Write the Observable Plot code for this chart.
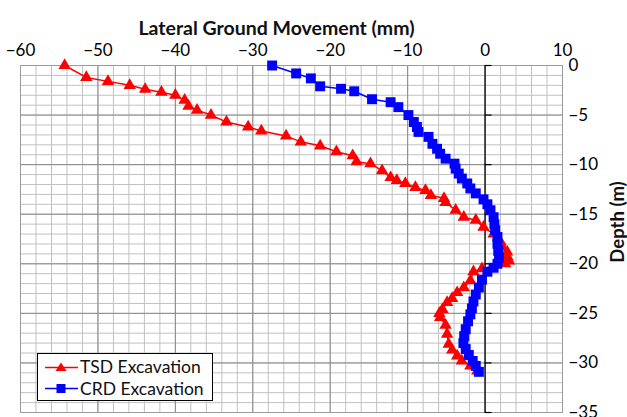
<!DOCTYPE html>
<html>
<head>
<meta charset="utf-8">
<script src="https://cdn.jsdelivr.net/npm/d3@7"></script>
<script src="https://cdn.jsdelivr.net/npm/@observablehq/plot@0.6"></script>
<style>
  html, body { margin: 0; padding: 0; background: #fff; }
  #wrap { position: relative; width: 627px; height: 417px; overflow: hidden; font-family: Lato, "Open Sans", sans-serif; }
  #legend { position: absolute; left: 37px; top: 353px; width: 176px; height: 48px; border: 1px solid #000; background: #fff; box-sizing: border-box; padding-top: 2px; }
  .lrow { display: flex; align-items: center; height: 21.5px; font-size: 17.5px; color: #111; }
  .lrow svg { margin-left: 7px; margin-right: 2px; }
  #ytitle { position: absolute; left: 617px; top: 222px; transform: translate(-50%, -50%) rotate(-90deg); font-weight: bold; font-size: 18.5px; color: #111; white-space: nowrap; }
</style>
</head>
<body>
<div id="wrap"></div>
<script>
// Series: lateral movement (mm) vs depth (m)
const tsdX = [-54.3,-51.5,-48.7,-45.9,-43.9,-41.8,-40.0,-38.8,-38.3,-37.2,-35.4,-33.4,-30.6,-28.9,-25.7,-23.8,-21.3,-19.2,-17.1,-16.6,-14.8,-13.3,-12.2,-11.4,-10.3,-9.0,-7.7,-7.0,-5.3,-5.1,-3.8,-2.75,-1.2,-0.2,1.1,2.0,2.2,2.85,2.9,3.1,2.6,-0.4,-1.5,-1.9,-2.75,-3.6,-4.25,-4.9,-5.5,-5.9,-5.8,-5.1,-4.9,-4.7,-4.25,-3.6,-3.0,-1.9,-1.0];
const tsdDepth = [0,-1.2,-1.6,-2.0,-2.4,-2.7,-3.0,-3.5,-4.1,-4.5,-5.0,-5.7,-6.2,-6.6,-7.1,-7.7,-8.1,-8.7,-9.1,-9.7,-9.9,-10.6,-11.3,-11.6,-11.9,-12.3,-12.6,-13.1,-13.4,-13.8,-14.6,-15.3,-15.6,-16.3,-17.0,-17.8,-18.3,-18.8,-19.3,-19.7,-20.0,-20.5,-20.8,-21.7,-22.4,-22.9,-23.5,-23.9,-24.6,-25.0,-25.4,-26.2,-27.1,-28.1,-28.7,-29.3,-29.8,-30.3,-30.8];
const crdX = [-27.5,-24.4,-22.5,-21.3,-18.6,-16.9,-14.6,-12.2,-11.2,-9.9,-9.2,-8.8,-8.6,-7.3,-6.8,-6.2,-5.8,-5.1,-3.95,-3.8,-3.4,-3.0,-2.3,-1.9,-1.2,-0.2,0.3,0.7,1.1,1.2,1.3,1.6,1.6,1.7,1.8,1.6,1.1,0.3,-0.4,-0.8,-1.2,-1.5,-1.7,-1.9,-2.2,-2.5,-2.7,-2.8,-2.5,-2.1,-1.6,-1.2,-0.8];
const crdDepth = [0,-0.8,-1.3,-2.1,-2.35,-2.6,-3.4,-3.7,-4.2,-5.0,-5.7,-6.2,-6.7,-7.2,-7.9,-8.4,-8.9,-9.4,-9.9,-10.4,-10.9,-11.4,-11.9,-12.4,-12.9,-13.5,-14.0,-14.6,-15.3,-16.0,-16.6,-17.3,-18.0,-18.7,-19.4,-20.0,-20.4,-20.8,-21.6,-22.4,-23.1,-23.8,-24.5,-25.1,-25.8,-26.6,-27.3,-28.0,-28.6,-29.2,-29.8,-30.3,-30.9];
const xTicks = [-60,-50,-40,-30,-20,-10,0,10];
const yTicks = [0,-5,-10,-15,-20,-25,-30,-35];
const xMinor = d3.range(-60, 11, 2);
const yMinor = d3.range(-35, 1, 1);
const seriesNames = ["TSD Excavation", "CRD Excavation"];
const titleText = "Lateral Ground Movement (mm)";
const yTitle = "Depth (m)";

const tsd = tsdX.map((x, i) => ({x, y: tsdDepth[i]}));
const crd = crdX.map((x, i) => ({x, y: crdDepth[i]}));

const chart = Plot.plot({
  width: 627,
  height: 417,
  marginLeft: 20,
  marginRight: 65,
  marginTop: 65,
  marginBottom: 5,
  style: {fontFamily: "Lato, 'Open Sans', sans-serif", fontSize: "17px", color: "#000", background: "#fff", overflow: "visible"},
  x: {domain: [-60, 10]},
  y: {domain: [-35, 0]},
  marks: [
    Plot.ruleX(xMinor, {stroke: "#c0c0c0", strokeWidth: 1}),
    Plot.ruleY(yMinor, {stroke: "#c0c0c0", strokeWidth: 1}),
    Plot.ruleX(xTicks, {stroke: "#8a8a8a", strokeWidth: 1}),
    Plot.ruleY(yTicks, {stroke: "#8a8a8a", strokeWidth: 1}),
    Plot.frame({stroke: "#9a9a9a"}),
    Plot.ruleX([0], {stroke: "#000", strokeWidth: 1.2}),
    Plot.ruleY(yTicks, {x1: 0, x2: 0.9, stroke: "#000", strokeWidth: 1.2}),
    Plot.axisX(xTicks, {anchor: "top", tickSize: 0, tickPadding: 10, label: null, fontSize: 17}),
    Plot.axisY(yTicks, {anchor: "right", tickSize: 0, tickPadding: 6, label: null, fontSize: 17}),
    Plot.line(tsd, {x: "x", y: "y", stroke: "#ff0000", strokeWidth: 1.5}),
    Plot.dot(tsd, {x: "x", y: "y", symbol: "triangle", r: 4.6, fill: "#ff0000"}),
    Plot.line(crd, {x: "x", y: "y", stroke: "#0000ff", strokeWidth: 1.5}),
    Plot.dot(crd, {x: "x", y: "y", symbol: "square", r: 5.6, fill: "#0000ff"}),
    Plot.text([titleText], {frameAnchor: "top", dx: -15, dy: -44, fontWeight: "bold", fontSize: 19.5, fill: "#111"})
  ]
});

const wrap = document.getElementById("wrap");
wrap.appendChild(chart);

const yt = document.createElement("div");
yt.id = "ytitle";
yt.textContent = yTitle;
wrap.appendChild(yt);

const legend = document.createElement("div");
legend.id = "legend";
const swatches = [
  {color: "#ff0000", shape: `<path d="M16,3.5 L21.5,12 L10.5,12 Z" fill="#ff0000"/>`},
  {color: "#0000ff", shape: `<rect x="11.5" y="4" width="9" height="9" fill="#0000ff"/>`}
];
seriesNames.forEach((name, i) => {
  const row = document.createElement("div");
  row.className = "lrow";
  row.innerHTML = `<svg width="33" height="16"><line x1="0" y1="8.5" x2="33" y2="8.5" stroke="${swatches[i].color}" stroke-width="1.5"/>${swatches[i].shape}</svg><span>${name}</span>`;
  legend.appendChild(row);
});
wrap.appendChild(legend);
</script>
</body>
</html>
